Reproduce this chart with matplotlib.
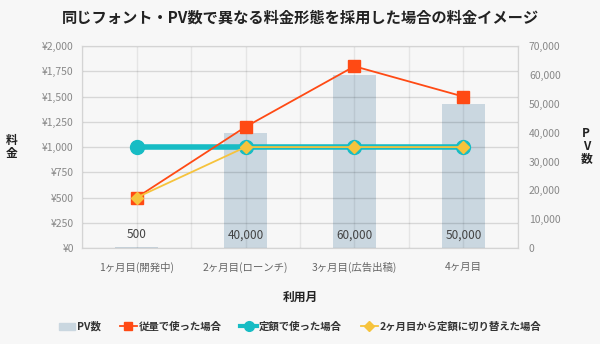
import numpy as np
import matplotlib.pyplot as plt
from matplotlib.lines import Line2D
import matplotlib.patches as mpatches

plt.rcParams['font.family'] = ['Noto Sans CJK JP', 'DejaVu Sans']

months = ['1ヶ月目(開発中)', '2ヶ月目(ローンチ)', '3ヶ月目(広告出稿)', '4ヶ月目']
pv = [500, 40000, 60000, 50000]
pay_per_use = [500, 1200, 1800, 1500]
flat_rate = [1000, 1000, 1000, 1000]
switched = [500, 1000, 1000, 1000]

yen_ticks = [0, 250, 500, 750, 1000, 1250, 1500, 1750, 2000]
pv_ticks = [0, 10000, 20000, 30000, 40000, 50000, 60000, 70000]

bg = '#f7f7f7'
red = '#ff4a14'
teal = '#17bcc4'
yellow = '#f6c33c'
bar_c = '#cad7e0'

fig = plt.figure(figsize=(6, 3.44), dpi=100, facecolor=bg)
ax = fig.add_axes([0.137, 0.279, 0.726, 0.587])
ax2 = ax.twinx()
ax.set_zorder(ax2.get_zorder() + 1)
ax.patch.set_visible(False)
ax2.set_facecolor(bg)

x = np.arange(len(months))

# bars (PV)
ax2.bar(x, pv, width=0.4, color=bar_c, zorder=1)
ax2.set_ylim(0, 70000)
ax2.set_yticks(pv_ticks)
ax2.set_yticklabels([f'{v:,}' for v in pv_ticks])
for xi, v in zip(x, pv):
    ax.text(xi, 0.065, f'{v:,}', transform=ax.get_xaxis_transform(),
            ha='center', va='center', fontsize=8.5, color='#444444', zorder=2)

# lines (price)
ax.plot(x, flat_rate, color=teal, lw=4, marker='o', ms=10, zorder=4,
        markerfacecolor=teal, markeredgecolor=teal)
ax.plot(x, pay_per_use, color=red, lw=1.3, marker='s', ms=8, zorder=5)
ax.plot(x, switched, color=yellow, lw=1.3, marker='D', ms=6, zorder=6)

ax.set_xlim(-0.5, 3.5)
ax.set_ylim(0, 2000)
ax.set_yticks(yen_ticks)
ax.set_yticklabels([f'¥{v:,}' for v in yen_ticks])
ax.set_xticks(x)
ax.set_xticklabels(months)
ax.set_xticks(np.arange(-0.5, 3.6, 1.0), minor=True)

ax.grid(axis='y', color='black', alpha=0.13, lw=1, zorder=0)
ax.grid(axis='x', which='both', color='black', alpha=0.07, lw=1, zorder=0)
ax.set_axisbelow(True)

for a in (ax, ax2):
    a.tick_params(length=0, labelsize=7.5, colors='#888888', pad=6)
    for s in a.spines.values():
        s.set_color('#d4d4d4')
ax.tick_params(axis='x', colors='#666666', pad=10)
ax.tick_params(axis='x', which='minor', length=0)
ax2.tick_params(axis='y', pad=8)

fig.text(0.5, 0.95, '同じフォント・PV数で異なる料金形態を採用した場合の料金イメージ',
         ha='center', va='center', fontsize=11, fontweight='bold', color='#222222')
fig.text(0.5, 0.137, '利用月', ha='center', va='center', fontsize=8.5,
         fontweight='bold', color='#222222')
fig.text(0.02, 0.573, '料\n金', ha='center', va='center', fontsize=8.5,
         fontweight='bold', color='#222222', linespacing=1.0)
fig.text(0.977, 0.575, 'P\nV\n数', ha='center', va='center', fontsize=8.5,
         fontweight='bold', color='#222222', linespacing=0.95)

handles = [
    mpatches.Patch(color=bar_c, label='PV数'),
    Line2D([], [], color=red, lw=1.3, marker='s', ms=6, label='従量で使った場合'),
    Line2D([], [], color=teal, lw=3, marker='o', ms=7, label='定額で使った場合'),
    Line2D([], [], color=yellow, lw=1.3, marker='D', ms=5, label='2ヶ月目から定額に切り替えた場合'),
]
leg = fig.legend(handles=handles, loc='center', bbox_to_anchor=(0.5, 0.05), ncol=4,
                 frameon=False, fontsize=7.5, handlelength=1.6, handletextpad=0.2,
                 columnspacing=1.8)
for t in leg.get_texts():
    t.set_fontweight('bold')
    t.set_color('#333333')

fig.savefig('out.png', dpi=100, facecolor=bg)
